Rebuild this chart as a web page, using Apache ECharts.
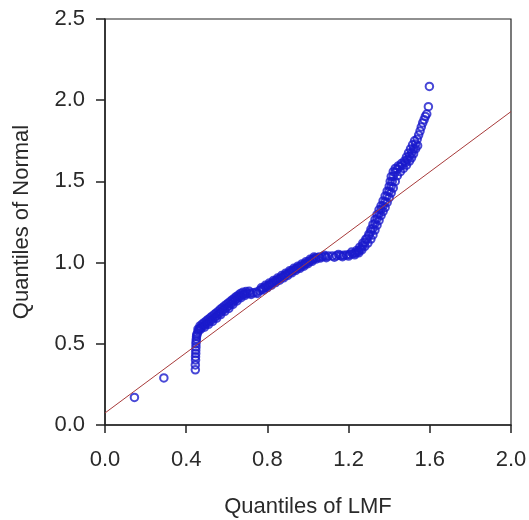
<!DOCTYPE html>
<html>
<head>
<meta charset="utf-8">
<script src="https://cdn.jsdelivr.net/npm/echarts@6/dist/echarts.min.js"></script>
<style>
html,body{margin:0;padding:0;background:#fff;}
#chart{width:529px;height:520px;}
</style>
</head>
<body>
<div id="chart"></div>
<script>
// Quantile pairs: x = quantiles of LMF, y = quantiles of Normal
var lmfQuantiles = [
  0.145, 0.29,
  0.445, 0.445, 0.446, 0.446, 0.447, 0.447, 0.448, 0.448, 0.449, 0.450, 0.451, 0.452,
  0.455, 0.46, 0.465, 0.472, 0.48, 0.49, 0.50, 0.51, 0.52, 0.53, 0.54, 0.55, 0.56, 0.57,
  0.58, 0.59, 0.60, 0.61, 0.62, 0.63, 0.64, 0.65, 0.66, 0.67, 0.68, 0.69, 0.70, 0.715,
  0.458, 0.468, 0.478, 0.488, 0.498, 0.508, 0.518, 0.528, 0.538, 0.548, 0.558, 0.568, 0.578,
  0.588, 0.598, 0.608, 0.618, 0.628, 0.638, 0.648, 0.658, 0.668, 0.68, 0.695, 0.71,
  0.47, 0.49, 0.51, 0.53, 0.55, 0.57, 0.59, 0.61, 0.63, 0.65, 0.67, 0.69, 0.72, 0.75,
  0.73, 0.745, 0.76, 0.77, 0.78, 0.79, 0.80, 0.81, 0.82, 0.83, 0.84, 0.85, 0.86, 0.87,
  0.88, 0.89, 0.90, 0.91, 0.92, 0.93, 0.94, 0.95, 0.96, 0.97, 0.98, 0.99, 1.00, 1.01,
  1.02, 1.03, 1.04,
  0.77, 0.79, 0.81, 0.83, 0.85, 0.87, 0.89, 0.91, 0.93, 0.95, 0.97, 0.99, 1.01, 1.03,
  0.78, 0.80, 0.82, 0.84, 0.86, 0.88, 0.90, 0.92, 0.94, 0.96, 0.98, 1.00, 1.02, 1.04,
  1.055, 1.07, 1.085, 1.10, 1.12, 1.14, 1.16, 1.175, 1.19, 1.205, 1.22,
  1.06, 1.09, 1.13, 1.17, 1.20, 1.23, 1.08, 1.15, 1.215,
  1.23, 1.24, 1.25, 1.26, 1.27, 1.28, 1.29, 1.30, 1.31, 1.32, 1.33, 1.34, 1.35, 1.36,
  1.37, 1.38, 1.39, 1.40, 1.41, 1.415, 1.42, 1.43, 1.44, 1.453, 1.465, 1.48, 1.49, 1.50,
  1.51, 1.52, 1.53, 1.538, 1.545, 1.552, 1.558, 1.565, 1.572, 1.578, 1.585, 1.593, 1.598,
  1.24, 1.255, 1.27, 1.285, 1.30, 1.31, 1.32, 1.33, 1.34, 1.35, 1.36, 1.37, 1.38, 1.39,
  1.40, 1.405, 1.41, 1.42, 1.43, 1.445, 1.46, 1.475, 1.485, 1.495, 1.505, 1.515, 1.525,
  1.25, 1.265, 1.28, 1.295, 1.31, 1.32, 1.33, 1.34, 1.35, 1.36, 1.37, 1.38, 1.39, 1.40,
  1.41, 1.42, 1.43, 1.44, 1.455, 1.47, 1.485, 1.50, 1.51, 1.52, 1.53, 1.54
];
var normalQuantiles = [
  0.17, 0.29,
  0.34, 0.37, 0.40, 0.42, 0.44, 0.46, 0.48, 0.50, 0.515, 0.53, 0.545, 0.555,
  0.565, 0.58, 0.592, 0.60, 0.607, 0.615, 0.625, 0.634, 0.643, 0.652, 0.662, 0.672, 0.684, 0.695,
  0.706, 0.716, 0.724, 0.733, 0.745, 0.757, 0.768, 0.778, 0.788, 0.796, 0.804, 0.808, 0.81, 0.812,
  0.59, 0.61, 0.62, 0.63, 0.64, 0.65, 0.66, 0.67, 0.68, 0.69, 0.70, 0.712, 0.722,
  0.732, 0.742, 0.752, 0.762, 0.772, 0.782, 0.792, 0.80, 0.81, 0.818, 0.822, 0.823,
  0.588, 0.602, 0.62, 0.638, 0.658, 0.68, 0.70, 0.718, 0.742, 0.764, 0.784, 0.798, 0.804, 0.81,
  0.814, 0.818, 0.826, 0.834, 0.842, 0.849, 0.856, 0.863, 0.871, 0.879, 0.887, 0.895, 0.902, 0.909,
  0.916, 0.924, 0.932, 0.940, 0.948, 0.955, 0.962, 0.968, 0.974, 0.981, 0.988, 0.995, 1.003, 1.01,
  1.018, 1.025, 1.03,
  0.845, 0.86, 0.875, 0.89, 0.905, 0.92, 0.935, 0.95, 0.965, 0.978, 0.992, 1.006, 1.02, 1.035,
  0.832, 0.846, 0.861, 0.877, 0.892, 0.906, 0.921, 0.937, 0.952, 0.965, 0.978, 0.993, 1.008, 1.022,
  1.034, 1.036, 1.038, 1.04, 1.041, 1.042, 1.043, 1.045, 1.047, 1.05, 1.055,
  1.028, 1.03, 1.033, 1.036, 1.04, 1.048, 1.045, 1.05, 1.065,
  1.058, 1.062, 1.072, 1.085, 1.105, 1.125, 1.145, 1.165, 1.19, 1.21, 1.24, 1.27, 1.30, 1.325,
  1.35, 1.375, 1.41, 1.44, 1.47, 1.50, 1.53, 1.555, 1.575, 1.59, 1.60, 1.615, 1.635, 1.655,
  1.675, 1.70, 1.73, 1.76, 1.785, 1.81, 1.835, 1.86, 1.88, 1.90, 1.915, 1.96, 2.085,
  1.075, 1.095, 1.12, 1.145, 1.175, 1.205, 1.235, 1.265, 1.295, 1.325, 1.35, 1.38, 1.41, 1.44,
  1.47, 1.50, 1.53, 1.56, 1.58, 1.595, 1.61, 1.625, 1.65, 1.675, 1.70, 1.725, 1.75,
  1.06, 1.078, 1.10, 1.12, 1.145, 1.17, 1.20, 1.23, 1.26, 1.29, 1.315, 1.34, 1.37, 1.40,
  1.43, 1.46, 1.50, 1.535, 1.56, 1.58, 1.60, 1.625, 1.645, 1.67, 1.70, 1.72
];
// Reference line end points
var refLineX = [0.0, 2.0];
var refLineY = [0.074, 1.93];
// Axis ticks
var xTicks = [0.0, 0.4, 0.8, 1.2, 1.6, 2.0];
var yTicks = [0.0, 0.5, 1.0, 1.5, 2.0, 2.5];
var xTitle = 'Quantiles of LMF';
var yTitle = 'Quantiles of Normal';

var points = lmfQuantiles.map(function (x, i) { return [x, normalQuantiles[i]]; });
var linePts = refLineX.map(function (x, i) { return [x, refLineY[i]]; });

var font = '"Liberation Sans", Arial, sans-serif';
var textColor = '#2a2a2a';
var chart = echarts.init(document.getElementById('chart'), null, {renderer: 'canvas'});
chart.setOption({
  animation: false,
  backgroundColor: '#fff',
  grid: {left: 105, right: 18, top: 19, bottom: 95, outerBoundsMode: 'none', containLabel: false,
    show: true, borderColor: '#222', borderWidth: 1.2, backgroundColor: 'transparent'},
  xAxis: {
    type: 'value',
    min: xTicks[0], max: xTicks[xTicks.length - 1], interval: 0.4,
    name: xTitle, nameLocation: 'middle', nameGap: 71,
    nameTextStyle: {fontFamily: font, fontSize: 22, color: textColor},
    axisLine: {show: true, lineStyle: {color: '#222', width: 1.5}},
    axisTick: {show: true, length: 8, lineStyle: {color: '#222', width: 1.5}},
    axisLabel: {margin: 24, fontFamily: font, fontSize: 22, color: textColor,
      formatter: function (v) { return v.toFixed(1); }},
    splitLine: {show: false}
  },
  yAxis: {
    type: 'value',
    min: yTicks[0], max: yTicks[yTicks.length - 1], interval: 0.5,
    name: yTitle, nameLocation: 'middle', nameGap: 72,
    nameTextStyle: {fontFamily: font, fontSize: 22, color: textColor},
    axisLine: {show: true, lineStyle: {color: '#222', width: 1.5}},
    axisTick: {show: true, length: 9, lineStyle: {color: '#222', width: 1.5}},
    axisLabel: {margin: 20, fontFamily: font, fontSize: 22, color: textColor,
      formatter: function (v) { return v.toFixed(1); }},
    splitLine: {show: false}
  },
  series: [
    {
      type: 'line',
      data: linePts,
      showSymbol: false,
      symbol: 'none',
      lineStyle: {color: '#a83a3a', width: 1},
      z: 3
    },
    {
      type: 'scatter',
      data: points,
      symbol: 'circle',
      symbolSize: 7.5,
      itemStyle: {color: 'rgba(255,255,255,0)', borderColor: '#1a1acc', borderWidth: 2},
      z: 2
    }
  ]
});
</script>
</body>
</html>
